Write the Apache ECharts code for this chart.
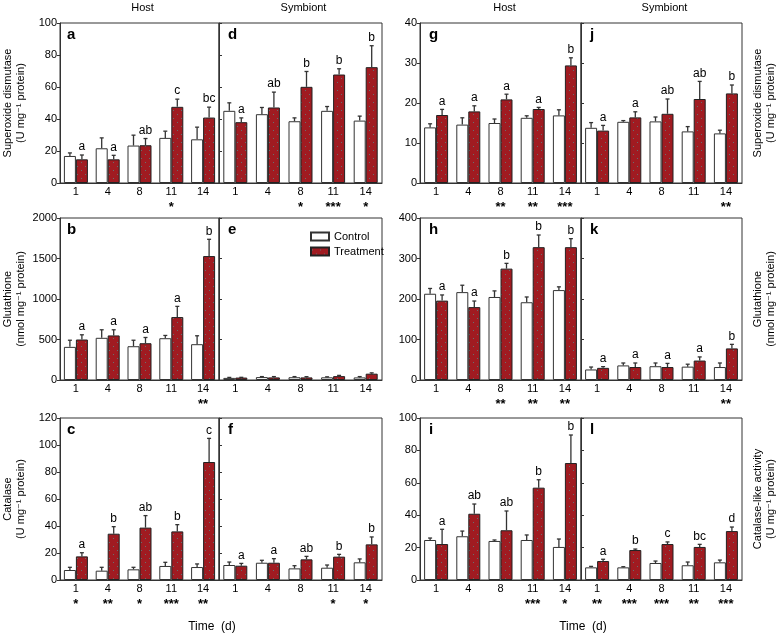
<!DOCTYPE html>
<html><head><meta charset="utf-8">
<script src="https://cdn.jsdelivr.net/npm/echarts@6/dist/echarts.min.js"></script>
<style>html,body{margin:0;padding:0;background:#fff}#c{width:778px;height:633px}</style>
</head><body><div id="c"></div>
<script>
// ---------- DATA ----------
const days = ['1', '4', '8', '11', '14'];
const seriesNames = ['Control', 'Treatment'];
const groupTitles = ['Host', 'Symbiont', 'Host', 'Symbiont'];
const xTitle = 'Time  (d)';

// a: Superoxide dismutase, host (left)
const aCtrl = [16.9, 21.7, 23.4, 28.2, 27.3];
const aCtrlSE = [1.9, 6.5, 6.5, 4.2, 7.6];
const aTrt = [14.8, 14.8, 23.6, 47.6, 40.9];
const aTrtSE = [2.7, 2.5, 4.2, 4.8, 6.5];
const aLetters = ['a', 'a', 'ab', 'c', 'bc'];
const aStars = ['', '', '', '*', ''];
// d: Superoxide dismutase, symbiont (left)
const dCtrl = [45.1, 43.0, 38.6, 45.1, 39.0];
const dCtrlSE = [5.0, 4.2, 2.1, 2.7, 2.8];
const dTrt = [38.0, 47.2, 60.1, 67.8, 72.4];
const dTrtSE = [2.7, 9.6, 9.6, 3.6, 13.4];
const dLetters = ['a', 'ab', 'b', 'b', 'b'];
const dStars = ['', '', '*', '***', '*'];
// b: Glutathione, host (left)
const bCtrl = [409, 521, 417, 516, 442];
const bCtrlSE = [82, 99, 74, 34, 104];
const bTrt = [500, 550, 454, 777, 1530];
const bTrtSE = [58, 70, 71, 132, 207];
const bLetters = ['a', 'a', 'a', 'a', 'b'];
const bStars = ['', '', '', '', '**'];
// e: Glutathione, symbiont (left)
const eCtrl = [26, 36, 34, 33, 32];
const eCtrlSE = [6, 6, 8, 6, 10];
const eTrt = [30, 32, 32, 48, 78];
const eTrtSE = [3, 10, 9, 9, 10];
const eLetters = ['', '', '', '', ''];
const eStars = ['', '', '', '', ''];
// c: Catalase, host (left)
const cCtrl = [7.4, 6.9, 7.9, 10.4, 9.6];
const cCtrlSE = [2.0, 2.5, 1.5, 2.7, 2.3];
const cTrt = [17.5, 34.3, 38.8, 36.0, 87.4];
const cTrtSE = [2.7, 5.2, 8.9, 5.0, 17.5];
const cLetters = ['a', 'b', 'ab', 'b', 'c'];
const cStars = ['*', '**', '*', '***', '**'];
// f: Catalase, symbiont (left)
const fCtrl = [11.1, 12.8, 8.6, 9.1, 13.1];
const fCtrlSE = [2.2, 1.8, 2.0, 2.0, 2.5];
const fTrt = [10.6, 12.8, 15.3, 17.3, 26.4];
const fTrtSE = [1.7, 3.0, 2.2, 1.7, 5.5];
const fLetters = ['a', 'a', 'ab', 'b', 'b'];
const fStars = ['', '', '', '*', '*'];
// g: Superoxide dismutase, host (right)
const gCtrl = [13.9, 14.6, 15.0, 16.3, 16.9];
const gCtrlSE = [0.9, 1.7, 1.0, 0.5, 1.4];
const gTrt = [17.0, 17.9, 20.9, 18.5, 29.4];
const gTrtSE = [1.4, 1.4, 1.3, 0.4, 1.9];
const gLetters = ['a', 'a', 'a', 'a', 'b'];
const gStars = ['', '', '**', '**', '***'];
// j: Superoxide dismutase, symbiont (right)
const jCtrl = [13.8, 15.3, 15.4, 12.9, 12.4];
const jCtrlSE = [1.3, 0.3, 1.1, 1.2, 0.8];
const jTrt = [13.1, 16.4, 17.3, 21.0, 22.4];
const jTrtSE = [1.3, 1.4, 3.7, 4.4, 2.1];
const jLetters = ['a', 'a', 'ab', 'ab', 'b'];
const jStars = ['', '', '', '', '**'];
// h: Glutathione, host (right)
const hCtrl = [213, 217, 205, 192, 222];
const hCtrlSE = [13, 17, 15, 13, 8];
const hTrt = [196, 180, 275, 328, 328];
const hTrtSE = [14, 15, 13, 30, 21];
const hLetters = ['a', 'a', 'b', 'b', 'b'];
const hStars = ['', '', '**', '**', '**'];
// k: Glutathione, symbiont (right)
const kCtrl = [26, 36, 34, 33, 32];
const kCtrlSE = [6, 6, 8, 6, 10];
const kTrt = [30, 32, 32, 48, 78];
const kTrtSE = [3, 10, 9, 9, 10];
const kLetters = ['a', 'a', 'a', 'a', 'b'];
const kStars = ['', '', '', '', '**'];
// i: Catalase-like, host (right)
const iCtrl = [24.7, 27.0, 24.1, 24.7, 20.4];
const iCtrlSE = [1.2, 3.2, 0.6, 3.1, 4.9];
const iTrt = [22.2, 40.9, 30.7, 57.0, 72.2];
const iTrtSE = [9.1, 6.0, 11.9, 4.9, 17.3];
const iLetters = ['a', 'ab', 'ab', 'b', 'b'];
const iStars = ['', '', '', '***', '*'];
// l: Catalase-like, symbiont (right)
const lCtrl = [7.8, 7.8, 10.5, 9.1, 10.9];
const lCtrlSE = [0.6, 0.4, 1.2, 2.0, 1.4];
const lTrt = [11.7, 18.5, 22.2, 20.4, 30.2];
const lTrtSE = [1.1, 0.6, 1.3, 1.6, 2.5];
const lLetters = ['a', 'b', 'c', 'bc', 'd'];
const lStars = ['**', '***', '***', '**', '***'];

const yNameSOD = ['Superoxide dismutase', '(U mg\u207B\u00B9 protein)'];
const yNameGSH = ['Glutathione', '(nmol mg\u207B\u00B9 protein)'];
const yNameCAT = ['Catalase', '(U mg\u207B\u00B9 protein)'];
const yNameCATlike = ['Catalase-like activity', '(U mg\u207B\u00B9 protein)'];

// ---------- LAYOUT ----------
const FONT = '"Liberation Sans", Arial, Helvetica, "DejaVu Sans", sans-serif';
const rows = [{top: 23, height: 160}, {top: 218, height: 162}, {top: 418, height: 162}];
const cols = [{left: 58, width: 161}, {left: 219, width: 163}, {left: 420, width: 161}, {left: 581, width: 161}];
const BW = 12;

const panels = [
  {id: 'a', r: 0, c: 0, ctrl: aCtrl, ctrlSE: aCtrlSE, trt: aTrt, trtSE: aTrtSE, letters: aLetters, stars: aStars, max: 100, interval: 20, showY: true, yName: yNameSOD},
  {id: 'd', r: 0, c: 1, ctrl: dCtrl, ctrlSE: dCtrlSE, trt: dTrt, trtSE: dTrtSE, letters: dLetters, stars: dStars, max: 100, interval: 20, showY: false},
  {id: 'b', r: 1, c: 0, ctrl: bCtrl, ctrlSE: bCtrlSE, trt: bTrt, trtSE: bTrtSE, letters: bLetters, stars: bStars, max: 2000, interval: 500, showY: true, yName: yNameGSH},
  {id: 'e', r: 1, c: 1, ctrl: eCtrl, ctrlSE: eCtrlSE, trt: eTrt, trtSE: eTrtSE, letters: eLetters, stars: eStars, max: 2000, interval: 500, showY: false},
  {id: 'c', r: 2, c: 0, ctrl: cCtrl, ctrlSE: cCtrlSE, trt: cTrt, trtSE: cTrtSE, letters: cLetters, stars: cStars, max: 120, interval: 20, showY: true, yName: yNameCAT},
  {id: 'f', r: 2, c: 1, ctrl: fCtrl, ctrlSE: fCtrlSE, trt: fTrt, trtSE: fTrtSE, letters: fLetters, stars: fStars, max: 120, interval: 20, showY: false},
  {id: 'g', r: 0, c: 2, ctrl: gCtrl, ctrlSE: gCtrlSE, trt: gTrt, trtSE: gTrtSE, letters: gLetters, stars: gStars, max: 40, interval: 10, showY: true},
  {id: 'j', r: 0, c: 3, ctrl: jCtrl, ctrlSE: jCtrlSE, trt: jTrt, trtSE: jTrtSE, letters: jLetters, stars: jStars, max: 40, interval: 10, showY: false, rightName: yNameSOD},
  {id: 'h', r: 1, c: 2, ctrl: hCtrl, ctrlSE: hCtrlSE, trt: hTrt, trtSE: hTrtSE, letters: hLetters, stars: hStars, max: 400, interval: 100, showY: true},
  {id: 'k', r: 1, c: 3, ctrl: kCtrl, ctrlSE: kCtrlSE, trt: kTrt, trtSE: kTrtSE, letters: kLetters, stars: kStars, max: 400, interval: 100, showY: false, rightName: yNameGSH},
  {id: 'i', r: 2, c: 2, ctrl: iCtrl, ctrlSE: iCtrlSE, trt: iTrt, trtSE: iTrtSE, letters: iLetters, stars: iStars, max: 100, interval: 20, showY: true},
  {id: 'l', r: 2, c: 3, ctrl: lCtrl, ctrlSE: lCtrlSE, trt: lTrt, trtSE: lTrtSE, letters: lLetters, stars: lStars, max: 100, interval: 20, showY: false, rightName: yNameCATlike}
];

// dotted red fill pattern (sparse, subtle dots)
const pc = document.createElement('canvas');
pc.width = 8; pc.height = 8;
const pctx = pc.getContext('2d');
pctx.fillStyle = '#a01b21'; pctx.fillRect(0, 0, 8, 8);
pctx.fillStyle = 'rgba(95,125,125,0.85)';
pctx.fillRect(1, 2, 1, 1); pctx.fillRect(5, 6, 1, 1);
const RED = {image: pc, repeat: 'repeat'};

const grids = [], xAxes = [], yAxes = [], series = [], graphics = [];
panels.forEach((p, i) => {
  const R = rows[p.r], C = cols[p.c];
  grids.push({left: C.left, top: R.top, width: C.width, height: R.height, show: true, borderColor: '#333', borderWidth: 1});
  xAxes.push({
    type: 'category', gridIndex: i, data: days,
    axisTick: {show: false},
    axisLine: {lineStyle: {color: '#333', width: 1}},
    axisLabel: {
      margin: 3, interval: 0,
      formatter: (v, idx) => '{v|' + v + '}\n{s|' + (p.stars[idx] || ' ') + '}',
      rich: {
        v: {fontSize: 11, lineHeight: 12, fontFamily: FONT, color: '#000'},
        s: {fontSize: 13, fontWeight: 'bold', lineHeight: 18, fontFamily: FONT, color: '#000'}
      }
    }
  });
  yAxes.push({
    type: 'value', gridIndex: i, min: 0, max: p.max, interval: p.interval,
    splitLine: {show: false},
    axisLine: {show: true, lineStyle: {color: '#333', width: 1}},
    axisTick: {show: true, inside: !p.showY, length: 3, lineStyle: {color: '#333'}},
    axisLabel: {show: p.showY, fontSize: 11, margin: 3, color: '#000', fontFamily: FONT, formatter: v => String(v)},
    name: p.yName ? p.yName.join('\n') : '',
    nameLocation: 'middle', nameRotate: 90, nameGap: 33,
    nameTextStyle: {fontSize: 11, lineHeight: 13, fontFamily: FONT, color: '#000'}
  });
  series.push({
    name: seriesNames[0], type: 'bar', xAxisIndex: i, yAxisIndex: i, data: p.ctrl,
    barWidth: BW, barGap: '0%', silent: true,
    itemStyle: {color: '#ffffff', borderColor: '#333', borderWidth: 1}
  });
  series.push({
    name: seriesNames[1], type: 'bar', xAxisIndex: i, yAxisIndex: i, data: p.trt,
    barWidth: BW, barGap: '0%', silent: true,
    itemStyle: {color: RED, borderColor: '#222', borderWidth: 1}
  });
  series.push({
    name: 'err' + p.id, type: 'custom', xAxisIndex: i, yAxisIndex: i, z: 5, silent: true, clip: false,
    data: days.map((d, k) => [k, p.ctrl[k], p.ctrl[k] + p.ctrlSE[k], p.trt[k], p.trt[k] + p.trtSE[k]]),
    encode: {x: 0, y: 2},
    renderItem: (params, api) => {
      const k = api.value(0);
      const cx = api.coord([k, 0])[0];
      const half = BW / 2;
      const els = [];
      const mk = (x, v, e) => {
        const y1 = api.coord([k, v])[1];
        const y2 = api.coord([k, e])[1];
        els.push({type: 'line', shape: {x1: x, y1: y1, x2: x, y2: y2}, style: {stroke: '#333', lineWidth: 1.3}});
        els.push({type: 'line', shape: {x1: x - 2, y1: y2, x2: x + 2, y2: y2}, style: {stroke: '#333', lineWidth: 1.3}});
        return y2;
      };
      mk(cx - half, api.value(1), api.value(2));
      const yt = mk(cx + half, api.value(3), api.value(4));
      const L = p.letters[params.dataIndex];
      if (L) els.push({type: 'text', style: {text: L, x: cx + half, y: yt - 2, align: 'center', textAlign: 'center', verticalAlign: 'bottom', textVerticalAlign: 'bottom', fontSize: 12, fontFamily: FONT, fill: '#000'}});
      return {type: 'group', children: els};
    }
  });
  graphics.push({type: 'text', x: C.left + 9, y: R.top + 4, silent: true,
    style: {text: p.id, fontSize: 15, fontWeight: 'bold', fontFamily: FONT, fill: '#000', textVerticalAlign: 'top', verticalAlign: 'top'}});
  if (p.rightName) {
    const cy = R.top + R.height / 2;
    graphics.push({type: 'text', x: 758, y: cy, rotation: Math.PI / 2, silent: true,
      style: {text: p.rightName[0], fontSize: 11, fontFamily: FONT, fill: '#000', textAlign: 'center', align: 'center', textVerticalAlign: 'middle', verticalAlign: 'middle'}});
    graphics.push({type: 'text', x: 771, y: cy, rotation: Math.PI / 2, silent: true,
      style: {text: p.rightName[1], fontSize: 11, fontFamily: FONT, fill: '#000', textAlign: 'center', align: 'center', textVerticalAlign: 'middle', verticalAlign: 'middle'}});
  }
});
// group titles
cols.forEach((C, ci) => {
  graphics.push({type: 'text', x: C.left + C.width / 2 + (ci % 2 === 0 ? 4 : 3), y: 8, silent: true,
    style: {text: groupTitles[ci], fontSize: 11, fontFamily: FONT, fill: '#000', textAlign: 'center', align: 'center', textVerticalAlign: 'middle', verticalAlign: 'middle'}});
});
// x titles
[212, 583].forEach(x => {
  graphics.push({type: 'text', x: x, y: 627, silent: true,
    style: {text: xTitle, fontSize: 12, fontFamily: FONT, fill: '#000', textAlign: 'center', align: 'center', textVerticalAlign: 'middle', verticalAlign: 'middle'}});
});

const chart = echarts.init(document.getElementById('c'), null, {renderer: 'canvas'});
chart.setOption({
  animation: false,
  backgroundColor: '#fff',
  textStyle: {fontFamily: FONT},
  grid: grids, xAxis: xAxes, yAxis: yAxes, series: series,
  legend: {
    data: seriesNames, orient: 'vertical', left: 305, top: 226,
    itemWidth: 18, itemHeight: 8, itemGap: 4, icon: 'rect', selectedMode: false,
    textStyle: {fontSize: 11, fontFamily: FONT, color: '#000', padding: [0, 0, 0, 0]}
  },
  graphic: graphics
});
</script>
</body></html>
